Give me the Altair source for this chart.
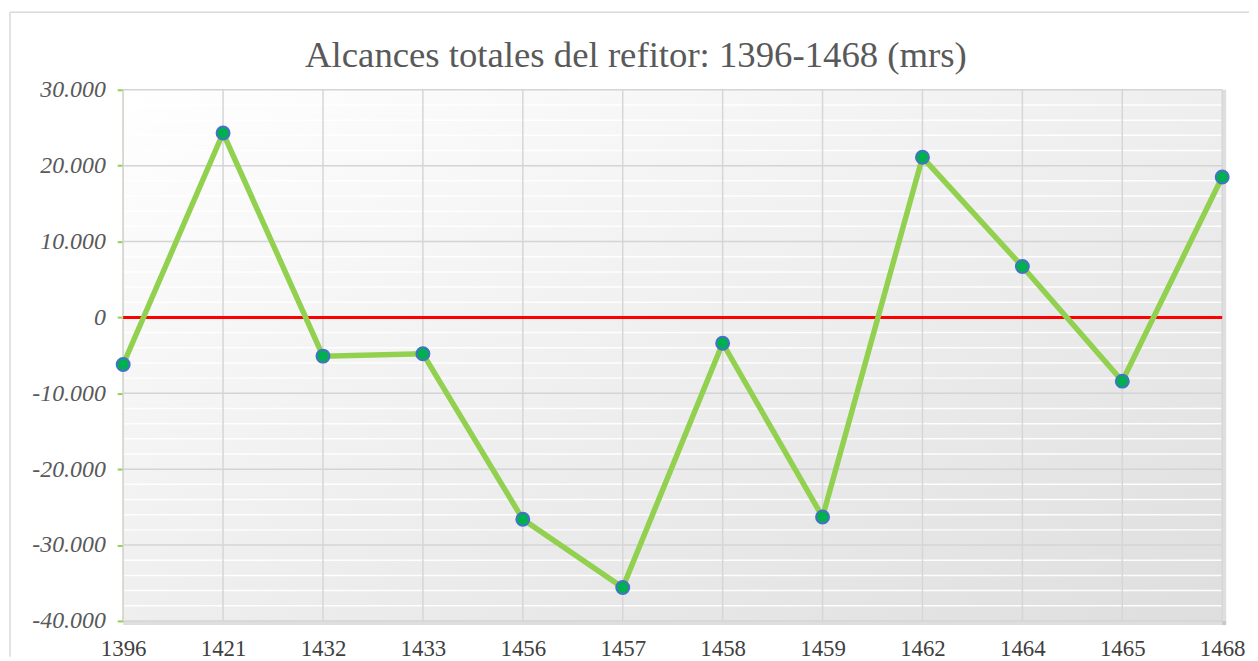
import altair as alt
import pandas as pd

years = ["1396", "1421", "1432", "1433", "1456", "1457", "1458", "1459", "1462", "1464", "1465", "1468"]
values = [-6200, 24300, -5100, -4800, -26600, -35600, -3400, -26300, 21100, 6700, -8400, 18500]
y_ticks = [-40000, -30000, -20000, -10000, 0, 10000, 20000, 30000]
title_text = "Alcances totales del refitor: 1396-1468 (mrs)"

df = pd.DataFrame({"year": years, "value": values})

W, H = 1107, 535
yscale = alt.Scale(domain=[-40000, 30000], nice=False, zero=False)
xscale = alt.Scale(type="point", padding=0)

x_enc = alt.X(
    "year:N", sort=years, title=None, scale=xscale,
    axis=alt.Axis(labelAngle=0, labelAlign="center", labelBaseline="top",
                  labelFont="Liberation Serif", labelFontSize=23,
                  labelColor="#404040", labelPadding=17, domain=False, ticks=False,
                  grid=False, labelOverlap=False, labelFlush=False),
)
y_enc = alt.Y(
    "value:Q", scale=yscale, title=None,
    axis=alt.Axis(values=y_ticks,
                  labelExpr="datum.value == 0 ? '0' : (datum.value / 1000) + '.000'",
                  labelFont="Liberation Serif", labelFontStyle="italic", labelFontSize=24,
                  labelColor="#595959", labelPadding=12,
                  domainColor="#92D050", domainWidth=2, tickColor="#92D050",
                  tickSize=6, tickWidth=2, grid=False),
)

base = alt.Chart(df)
single = alt.Chart(alt.Data(values=[{"k": 1}]))

bg = single.mark_rect(color=alt.LinearGradient(
    gradient="linear", x1=0, y1=0, x2=1, y2=1,
    stops=[alt.GradientStop(color="#ffffff", offset=0),
           alt.GradientStop(color="#dedede", offset=1)])).encode(
    x=alt.value(0), x2=alt.value(W), y=alt.value(0), y2=alt.value(H)
)

vgrid = base.mark_rule(color="#d6d6d6", strokeWidth=1.5).encode(
    x=alt.X("year:N", sort=years, scale=xscale, title=None)
)

minor = alt.Chart(alt.sequence(-40000, 30001, 2000, as_="v")).transform_filter(
    "datum.v % 10000 != 0"
).mark_rule(color="#ffffff", strokeWidth=1.5, opacity=0.9).encode(
    y=alt.Y("v:Q", scale=yscale, title=None)
)
major = alt.Chart(alt.sequence(-40000, 30001, 10000, as_="v")).mark_rule(
    color="#d4d4d4", strokeWidth=1.5
).encode(y=alt.Y("v:Q", scale=yscale, title=None))

frame_left = single.mark_rule(color="#d9d9d9", strokeWidth=1.5).encode(
    x=alt.value(-114), y=alt.value(-78), y2=alt.value(H + 36)
)
frame_top = single.mark_rule(color="#d9d9d9", strokeWidth=1.5).encode(
    x=alt.value(-114), x2=alt.value(1134), y=alt.value(-78)
)
shadow_bottom = single.mark_rule(color="#a0a0a0", strokeWidth=4, opacity=0.35).encode(
    x=alt.value(0), x2=alt.value(W + 4), y=alt.value(H + 2)
)
shadow_right = single.mark_rule(color="#a0a0a0", strokeWidth=4, opacity=0.35).encode(
    x=alt.value(W + 2), y=alt.value(0), y2=alt.value(H + 4)
)

title = single.mark_text(font="Liberation Serif", fontSize=37, color="#595959",
                         align="center", baseline="alphabetic").encode(
    x=alt.value(W / 2 - 37), y=alt.value(-23), text=alt.value(title_text)
)

zero = single.mark_rule(color="#FF0000", strokeWidth=3).encode(y=alt.datum(0, scale=yscale))

line = base.mark_line(color="#92D050", strokeWidth=5.5).encode(x=x_enc, y=y_enc)
points = base.mark_circle(color="#00B050", stroke="#4472C4", strokeWidth=2, size=170, opacity=1).encode(
    x=x_enc, y=y_enc
)

chart = alt.layer(
    frame_left, frame_top, title, bg, shadow_bottom, shadow_right, minor, vgrid, major,
    zero, line, points
).properties(
    width=W, height=H,
    padding={"left": 1, "top": 1, "right": 0, "bottom": 0},
).configure_view(stroke="transparent")

chart.save("out.html", embed_options={"renderer": "svg", "actions": False})
